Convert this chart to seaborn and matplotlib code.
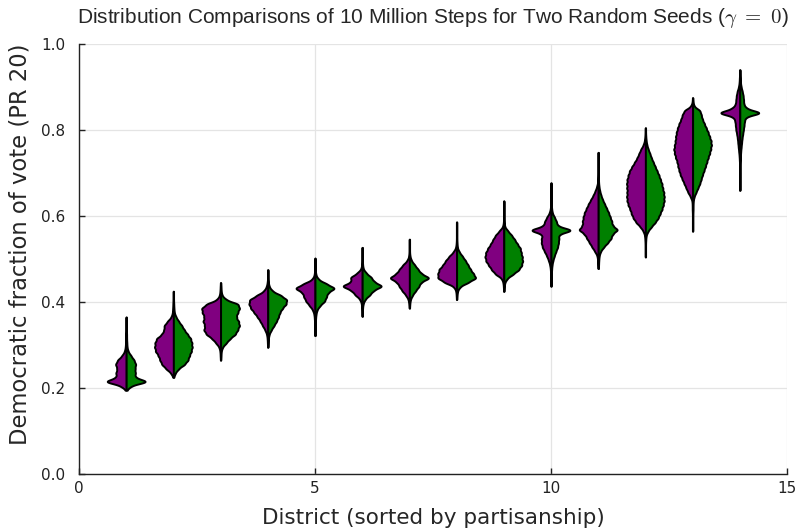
import numpy as np
import pandas as pd
import matplotlib
matplotlib.use("Agg")
import matplotlib.pyplot as plt
import seaborn as sns

# Sampled vote-share histograms per district (bins of width 0.01 starting at bin_start),
# one count list per random seed.
districts = list(range(1, 15))
bin_width = 0.01
bin_start = [0.195, 0.225, 0.265, 0.295, 0.322, 0.367, 0.386,
             0.406, 0.425, 0.437, 0.478, 0.505, 0.565, 0.66]

seed_a_counts = [
    [3, 25, 100, 45, 48, 42, 50, 40, 20, 8, 4, 3, 2, 2, 1, 1, 1, 1],
    [2, 14, 40, 62, 72, 80, 95, 100, 98, 90, 62, 50, 50, 32, 12, 5, 3, 2, 1, 1, 1],
    [1, 2, 3, 8, 25, 45, 75, 88, 82, 92, 85, 95, 100, 75, 20, 6, 3, 2, 1],
    [1, 2, 3, 6, 15, 28, 40, 55, 72, 90, 100, 98, 60, 22, 8, 3, 1, 1, 1],
    [1, 1, 1, 2, 3, 5, 12, 28, 45, 55, 62, 100, 58, 15, 4, 2, 1, 1, 1],
    [1, 1, 2, 4, 12, 35, 52, 100, 52, 58, 25, 6, 2, 1, 1, 1, 1],
    [1, 2, 6, 18, 36, 50, 62, 100, 65, 50, 33, 12, 3, 1, 1, 1, 1],
    [1, 2, 4, 15, 65, 100, 98, 92, 72, 58, 40, 18, 5, 2, 1, 1, 1, 1, 1],
    [1, 2, 4, 12, 45, 65, 80, 95, 100, 96, 85, 70, 58, 45, 25, 6, 2, 1, 1, 1, 1, 1],
    [1, 1, 1, 2, 3, 6, 12, 20, 30, 40, 45, 45, 40, 100, 35, 30, 20, 8, 3, 1, 1, 1, 1, 1, 1],
    [1, 2, 3, 6, 18, 32, 45, 58, 70, 100, 80, 80, 76, 70, 60, 50, 38, 26, 16, 8, 3, 2,
     1, 1, 1, 1, 1, 1],
    [1, 1, 1, 1, 2, 4, 12, 28, 50, 65, 75, 82, 92, 98, 100, 98, 99, 100, 98, 92, 85, 72,
     58, 45, 35, 25, 12, 5, 2, 1, 1],
    [1, 1, 1, 1, 1, 2, 2, 3, 12, 25, 35, 45, 55, 65, 72, 78, 82, 90, 96, 100, 96, 92,
     90, 86, 80, 72, 62, 55, 45, 10, 2, 1],
    [1, 1, 1, 1, 1, 1, 1, 2, 3, 5, 7, 9, 11, 14, 18, 20, 22, 28, 100, 35, 20, 18, 16, 12,
     6, 3, 2, 1, 1],
]

seed_b_counts = [
    [3, 22, 100, 40, 42, 40, 44, 36, 22, 9, 4, 3, 2, 2, 1, 1, 1, 1],
    [2, 10, 28, 60, 78, 85, 95, 100, 98, 92, 75, 58, 45, 28, 14, 5, 3, 2, 1, 1, 1],
    [1, 2, 3, 10, 30, 50, 78, 90, 100, 95, 82, 90, 100, 95, 30, 8, 3, 2, 1],
    [1, 2, 3, 7, 18, 32, 45, 55, 62, 75, 95, 100, 70, 25, 8, 3, 1, 1, 1],
    [1, 1, 1, 2, 3, 5, 10, 25, 48, 56, 64, 100, 58, 18, 5, 2, 1, 1, 1],
    [1, 1, 2, 5, 15, 38, 55, 100, 58, 45, 20, 5, 2, 1, 1, 1, 1],
    [1, 2, 5, 15, 30, 46, 56, 100, 58, 42, 26, 10, 3, 1, 1, 1, 1],
    [1, 2, 5, 18, 60, 100, 85, 70, 58, 45, 30, 14, 4, 2, 1, 1, 1, 1, 1],
    [1, 2, 5, 18, 50, 80, 95, 100, 98, 92, 88, 72, 58, 42, 22, 5, 2, 1, 1, 1, 1, 1],
    [1, 1, 1, 2, 3, 5, 9, 15, 22, 30, 34, 36, 35, 100, 30, 25, 16, 6, 3, 1, 1, 1, 1, 1, 1],
    [1, 2, 3, 5, 12, 28, 48, 65, 72, 100, 72, 68, 60, 52, 42, 32, 22, 14, 8, 4, 2, 1,
     1, 1, 1, 1, 1, 1],
    [1, 1, 1, 1, 2, 4, 14, 32, 52, 68, 78, 88, 95, 100, 100, 98, 92, 88, 80, 72, 62, 52,
     42, 32, 24, 15, 8, 4, 2, 1, 1],
    [1, 1, 1, 1, 1, 2, 2, 3, 8, 18, 28, 38, 45, 52, 60, 68, 75, 82, 90, 96, 100, 98,
     90, 82, 72, 62, 52, 46, 40, 8, 2, 1],
    [1, 1, 1, 1, 1, 1, 1, 2, 3, 4, 6, 8, 10, 13, 16, 19, 21, 26, 100, 30, 18, 17, 15, 11,
     6, 3, 2, 1, 1],
]

seed_labels = ["Seed 1", "Seed 2"]
seed_colors = ["#800080", "#008000"]

# Expand the histograms into observations for seaborn's KDE
records = []
for d, start, ca, cb in zip(districts, bin_start, seed_a_counts, seed_b_counts):
    for label, counts in zip(seed_labels, (ca, cb)):
        levels = np.round(start + bin_width * np.arange(len(counts)), 4)
        for v in np.repeat(levels, counts):
            records.append((d, label, v))
df = pd.DataFrame(records, columns=["district", "seed", "fraction"])

KDE_BANDWIDTH = 0.005


def fixed_bandwidth(kde):
    """Bandwidth factor giving the same absolute kernel width in every violin."""
    return KDE_BANDWIDTH / np.std(kde.dataset)


sns.set_theme(style="white")
plt.rcParams["font.family"] = ["DejaVu Sans"]
plt.rcParams["mathtext.fontset"] = "cm"

fig = plt.figure(figsize=(7.96, 5.31), dpi=100)
ax = fig.add_axes([0.0992, 0.1073, 0.8895, 0.8098])

sns.violinplot(
    data=df, x="district", y="fraction", hue="seed",
    hue_order=seed_labels, palette=seed_colors, saturation=1,
    split=True, inner=None, density_norm="width", cut=0,
    bw_method=fixed_bandwidth, gridsize=400, width=0.8, native_scale=True,
    linecolor="black", linewidth=1.4, legend=False, ax=ax,
)

ax.set_xlim(0, 15)
ax.set_ylim(0, 1)
ax.set_xticks([0, 5, 10, 15])
ax.set_yticks([0.0, 0.2, 0.4, 0.6, 0.8, 1.0])
ax.set_yticklabels(["0.0", "0.2", "0.4", "0.6", "0.8", "1.0"])

ax.set_axisbelow(True)
ax.grid(True, color="#e4e4e4", linewidth=0.9)
for side in ("top", "right"):
    ax.spines[side].set_visible(False)
for side in ("left", "bottom"):
    ax.spines[side].set_color("#222222")
    ax.spines[side].set_linewidth(1.0)
ax.tick_params(axis="both", direction="in", length=4, width=1.0,
               color="#222222", labelsize=11, labelcolor="#222222",
               left=True, bottom=True)
ax.tick_params(axis="y", pad=10)
ax.tick_params(axis="x", pad=5)

ax.set_xlabel("District (sorted by partisanship)", fontsize=15.5, labelpad=9)
ax.set_ylabel("Democratic fraction of vote (PR 20)", fontsize=16.3)
ax.yaxis.set_label_coords(-0.067, 0.535)
ax.set_title("Distribution Comparisons of 10 Million Steps for Two Random Seeds ($\\gamma\\ =\\ 0$)",
             fontsize=15, family="Liberation Sans", pad=15)

fig.savefig("out.png", dpi=100)
